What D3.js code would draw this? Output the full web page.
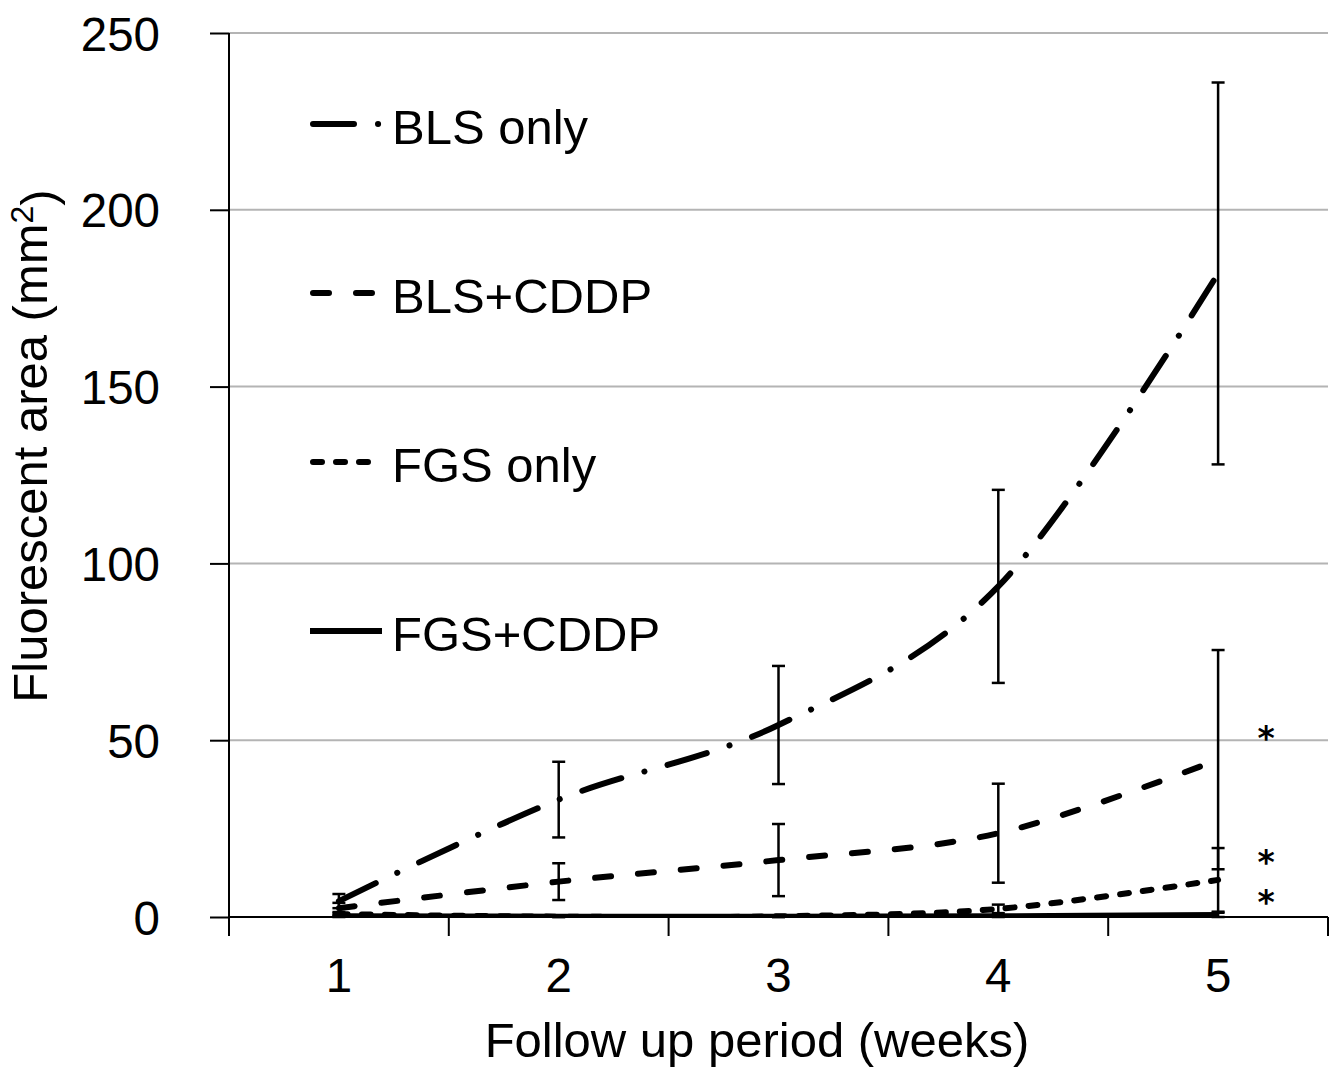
<!DOCTYPE html>
<html>
<head>
<meta charset="utf-8">
<script src="https://cdn.jsdelivr.net/npm/d3@7"></script>
<style>
  body { margin: 0; background: #fff; }
  text { font-family: "Liberation Sans", Arial, sans-serif; fill: #000; }
</style>
</head>
<body>
<div id="chart"></div>
<script>
// Weeks on the x axis
var weeks = [1, 2, 3, 4, 5];
var yTicks = [0, 50, 100, 150, 200, 250];

// Series means and error bar half widths
var blsOnly = [4.5, 33.2, 54.3, 93.5, 182];
var blsOnlyErr = [2, 10.7, 16.7, 27.3, 54];
var blsCddp = [2.5, 10, 16.1, 23.7, 44.5];
var blsCddpErr = [1.5, 5.2, 10.2, 14, 31];
var fgsOnly = [0.8, 0.1, 0.2, 2.3, 10.5];
var fgsOnlyErr = [0.6, 0.2, 0.3, 1.2, 9];
var fgsCddp = [0.2, 0.1, 0.1, 0.2, 0.6];
var fgsCddpErr = [0.3, 0.2, 0.2, 0.3, 0.6];

var seriesNames = ["BLS only", "BLS+CDDP", "FGS only", "FGS+CDDP"];

// Asterisks next to week 5
var starValues = [52.6, 17.3, 6.2];

var width = 1341, height = 1088;
var plot = { left: 229, right: 1328, top: 33, bottom: 917 };

var svg = d3.select("#chart")
    .append("svg")
    .attr("width", width)
    .attr("height", height);

var x = d3.scaleBand()
    .domain(weeks)
    .range([plot.left, plot.right]);

var y = d3.scaleLinear()
    .domain([0, 250])
    .range([plot.bottom, plot.top]);

// Grid lines
svg.append("g")
    .selectAll("line")
    .data(yTicks.filter(d => d > 0))
    .enter()
    .append("line")
    .attr("x1", plot.left)
    .attr("x2", plot.right)
    .attr("y1", d => y(d))
    .attr("y2", d => y(d))
    .style("stroke", "#b4b4b4")
    .style("stroke-width", 2);

// Y axis
var yAxis = svg.append("g")
    .attr("transform", "translate(" + plot.left + ",0)")
    .call(d3.axisLeft(y).tickValues(yTicks).tickSize(19).tickPadding(50));
yAxis.select(".domain").attr("d", "M0," + plot.top + "V" + plot.bottom);
yAxis.selectAll("line").style("stroke", "#000").style("stroke-width", 2);
yAxis.select(".domain").style("stroke", "#000").style("stroke-width", 2);
yAxis.selectAll("text")
    .style("font-size", "47.5px")
    .attr("dy", "0.36em");

// X axis (ticks on band edges)
var edges = weeks.map(d => x(d)).concat([plot.right]);
svg.append("line")
    .attr("x1", plot.left)
    .attr("x2", plot.right)
    .attr("y1", plot.bottom)
    .attr("y2", plot.bottom)
    .style("stroke", "#000")
    .style("stroke-width", 2);
svg.append("g")
    .selectAll("line")
    .data(edges)
    .enter()
    .append("line")
    .attr("x1", d => d)
    .attr("x2", d => d)
    .attr("y1", plot.bottom)
    .attr("y2", plot.bottom + 19)
    .style("stroke", "#000")
    .style("stroke-width", 2);
svg.append("g")
    .selectAll("text")
    .data(weeks)
    .enter()
    .append("text")
    .attr("x", d => x(d) + x.bandwidth() / 2)
    .attr("y", 992)
    .attr("text-anchor", "middle")
    .style("font-size", "47.5px")
    .text(d => d);

// Axis titles
svg.append("text")
    .attr("x", 757)
    .attr("y", 1057)
    .attr("text-anchor", "middle")
    .style("font-size", "49px")
    .text("Follow up period (weeks)");

var yTitle = svg.append("text")
    .attr("text-anchor", "middle")
    .attr("transform", "translate(47,446) rotate(-90)")
    .style("font-size", "49px");
yTitle.append("tspan").text("Fluorescent area (mm");
yTitle.append("tspan").attr("dy", "-0.45em").style("font-size", "32px").text("2");
yTitle.append("tspan").attr("dy", "0.45em").text(")");

// Clip the curves to the plot area
svg.append("clipPath")
    .attr("id", "clip")
    .append("rect")
    .attr("x", plot.left)
    .attr("y", plot.top - 10)
    .attr("width", plot.right - plot.left)
    .attr("height", plot.bottom - plot.top + 10);

var series = [
    { name: seriesNames[0], values: blsOnly, err: blsOnlyErr, dash: "41 24 0.1 24" },
    { name: seriesNames[1], values: blsCddp, err: blsCddpErr, dash: "16 27" },
    { name: seriesNames[2], values: fgsOnly, err: fgsOnlyErr, dash: "9 14" },
    { name: seriesNames[3], values: fgsCddp, err: fgsCddpErr, dash: null }
];

var line = d3.line()
    .x((d, i) => x(weeks[i]) + x.bandwidth() / 2)
    .y(d => y(d))
    .curve(d3.curveCatmullRom.alpha(0));

// Lines
svg.append("g")
    .attr("clip-path", "url(#clip)")
    .selectAll("path")
    .data(series)
    .enter()
    .append("path")
    .attr("d", d => line(d.values))
    .style("fill", "none")
    .style("stroke", "#000")
    .style("stroke-width", 6)
    .style("stroke-linecap", d => d.dash ? "round" : "butt")
    .style("stroke-dasharray", d => d.dash);

// Error bars
series.forEach(function (s) {
    var g = svg.append("g");
    var bars = s.values.map((v, i) => ({ cx: x(weeks[i]) + x.bandwidth() / 2, lo: v - s.err[i], hi: v + s.err[i] }));
    g.selectAll(".stem")
        .data(bars)
        .enter()
        .append("line")
        .attr("x1", d => d.cx)
        .attr("x2", d => d.cx)
        .attr("y1", d => y(Math.max(0, d.lo)))
        .attr("y2", d => y(d.hi))
        .style("stroke", "#000")
        .style("stroke-width", 2.5);
    ["lo", "hi"].forEach(function (k) {
        g.selectAll(".cap-" + k)
            .data(bars)
            .enter()
            .append("line")
            .attr("x1", d => d.cx - 6.5)
            .attr("x2", d => d.cx + 6.5)
            .attr("y1", d => y(Math.max(0, d[k])))
            .attr("y2", d => y(Math.max(0, d[k])))
            .style("stroke", "#000")
            .style("stroke-width", 2.5);
    });
});

// Asterisks
svg.append("g")
    .selectAll("text")
    .data(starValues)
    .enter()
    .append("text")
    .attr("x", x(5) + x.bandwidth() / 2 + 48)
    .attr("y", d => y(d) + 18.5)
    .attr("text-anchor", "middle")
    .style("font-family", "'DejaVu Sans', sans-serif")
    .style("font-weight", "bold")
    .style("font-size", "33px")
    .text("*");

// Legend
var legendY = [127, 296, 465, 634];
var legend = svg.append("g")
    .selectAll("g")
    .data(series)
    .enter()
    .append("g")
    .attr("transform", (d, i) => "translate(0," + legendY[i] + ")");
legend.append("line")
    .attr("x1", d => d.dash ? 313 : 310)
    .attr("x2", 382)
    .attr("y1", -3)
    .attr("y2", -3)
    .style("stroke", "#000")
    .style("stroke-width", 6)
    .style("stroke-linecap", d => d.dash ? "round" : "butt")
    .style("stroke-dasharray", d => d.dash);
legend.append("text")
    .attr("x", 392)
    .attr("y", 17)
    .style("font-size", "49px")
    .text(d => d.name);
</script>
</body>
</html>
